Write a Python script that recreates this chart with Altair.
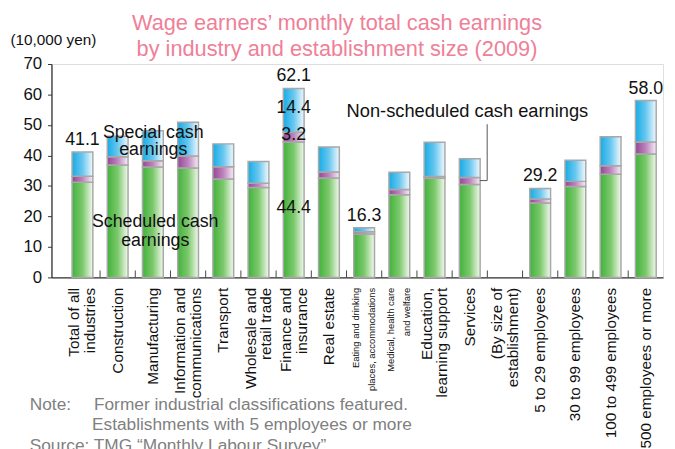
import altair as alt
import pandas as pd

# ---------------- data ----------------
categories = [
    "Total of all\nindustries", "Construction", "Manufacturing",
    "Information and\ncommunications", "Transport", "Wholesale and\nretail trade",
    "Finance and\ninsurance", "Real estate", "Eating and drinking\nplaces, accommodations",
    "Medical, health care\nand welfare", "Education,\nlearning support", "Services",
    "(By size of\nestablishment)", "5 to 29 employees", "30 to 99 employees",
    "100 to 499 employees", "500 employees or more",
]
scheduled = [31.2, 36.9, 36.2, 35.9, 32.3, 29.5, 44.4, 32.6, 14.2, 27.1, 32.5, 30.5,
             None, 24.4, 29.8, 33.8, 40.5]
non_scheduled = [2.0, 2.7, 2.1, 3.9, 4.0, 1.4, 3.2, 2.0, 0.8, 1.7, 0.6, 2.3,
                 None, 1.3, 1.7, 2.8, 3.9]
special = [7.9, 6.7, 9.8, 11.1, 7.5, 7.1, 14.4, 8.2, 1.3, 5.7, 11.2, 6.1,
           None, 3.5, 6.9, 9.5, 13.6]

total_label_cats = ["Total of all\nindustries", "Finance and\ninsurance",
                    "Eating and drinking\nplaces, accommodations",
                    "5 to 29 employees", "500 employees or more"]
total_label_vals = [41.1, 62.1, 16.3, 29.2, 58.0]
finance_cat = "Finance and\ninsurance"

title_lines = ["Wage earners\u2019 monthly total cash earnings",
               "by industry and establishment size (2009)"]
y_unit = "(10,000 yen)"
note_lines = ["Note:", "Former industrial classifications featured.",
              "Establishments with 5 employees or more",
              "Source: TMG \u201cMonthly Labour Survey\u201d"]

# ---------------- tables ----------------
rows = []
for c, s, n, p in zip(categories, scheduled, non_scheduled, special):
    if s is None:
        continue
    rows.append(dict(cat=c, s0=0.0, s1=s, n0=s, n1=s + n, p0=s + n, p1=s + n + p))
df = pd.DataFrame(rows)

lab_df = pd.DataFrame({"cat": total_label_cats, "v": total_label_vals,
                       "t": [f"{v:.1f}" for v in total_label_vals]})

fi = categories.index(finance_cat)
fs, fn, fp = scheduled[fi], non_scheduled[fi], special[fi]
fin_df = pd.DataFrame({"cat": [finance_cat] * 3,
                       "v": [fs / 2, fs + fn / 2, fs + fn + fp / 2],
                       "t": [f"{fs:.1f}", f"{fn:.1f}", f"{fp:.1f}"]})

tick_df = pd.DataFrame({"cat": categories[1:]})
one = pd.DataFrame({"a": [0]})

# ---------------- layout ----------------
W, H = 619, 216
P_IN, P_OUT, ALIGN = 0.41, 0.39, 0.75
STEP = W / (len(categories) - P_IN + 2 * P_OUT)
FONT = "Liberation Sans"
LINE_H = 16

xscale = alt.Scale(domain=categories, paddingInner=P_IN, paddingOuter=P_OUT, align=ALIGN)
xaxis = alt.Axis(
    title=None, ticks=False, tickSize=0, labelAngle=270, labelAlign="right",
    labelBaseline="middle", labelPadding=10, labelFont=FONT,
    labelFontSize={"condition": {"test": "indexof(datum.value, 'Eating') == 0 || indexof(datum.value, 'Medical') == 0",
                                 "value": 9.5}, "value": 15.5},
    labelOffset={"condition": {"test": "indexof(datum.value, '\\n') >= 0", "value": -LINE_H / 2},
                 "value": 0},
    labelLineHeight=LINE_H, labelColor="#111", labelLimit=0, labelOverlap=False,
    labelExpr="split(datum.label, '\\n')", domainColor="#333", domainWidth=1.3,
)
yscale = alt.Scale(domain=[0, 70], nice=False)
yaxis = alt.Axis(
    values=list(range(0, 71, 10)), grid=False, tickSize=4, tickColor="#333",
    labelOverlap=False, labelPadding=6, labelFontSize=17, labelFont=FONT, labelColor="#111",
    domainColor="#333", domainWidth=1.3,
    title=y_unit, titleAngle=0, titleAlign="left", titleBaseline="middle",
    titleX=-42, titleY=-25, titleFontSize=15.5, titleFont=FONT, titleFontWeight="normal",
    titleColor="#111",
)
x_enc = alt.X("cat:N", scale=xscale, axis=xaxis, sort=categories)


def y_enc(field):
    return alt.Y(field, scale=yscale, axis=yaxis)


def grad(c0, cm, c1):
    return alt.LinearGradient(
        gradient="linear", x1=0, x2=1, y1=0, y2=0,
        stops=[alt.GradientStop(color=c0, offset=0),
               alt.GradientStop(color=cm, offset=0.5),
               alt.GradientStop(color=c1, offset=1)],
    )


bar_kw = dict(stroke="#a8a8a8", strokeWidth=1.5)
green = alt.Chart(df).mark_bar(color=grad("#42b23c", "#7cc86c", "#f3f9ef"), **bar_kw).encode(
    x=x_enc, y=y_enc("s0:Q"), y2="s1:Q")
purple = alt.Chart(df).mark_bar(color=grad("#944794", "#bd84bd", "#f7eef7"), **bar_kw).encode(
    x=x_enc, y=y_enc("n0:Q"), y2="n1:Q")
blue = alt.Chart(df).mark_bar(color=grad("#16ace6", "#68c7ef", "#f2f9fe"), **bar_kw).encode(
    x=x_enc, y=y_enc("p0:Q"), y2="p1:Q")

ticks = alt.Chart(tick_df).mark_rule(color="#444", strokeWidth=1, xOffset=-STEP / 2).encode(
    x=x_enc, y=alt.value(H), y2=alt.value(H - 7))

txt = dict(font=FONT, fontSize=18, color="#111")
tot_labels = alt.Chart(lab_df).mark_text(baseline="bottom", dy=-3, **txt).encode(
    x=x_enc, y=y_enc("v:Q"), text="t:N")
fin_labels = alt.Chart(fin_df).mark_text(baseline="middle", dy=-2, **txt).encode(
    x=x_enc, y=y_enc("v:Q"), text="t:N")


def note(text, x, y, **kw):
    return alt.Chart(one).mark_text(**kw).encode(
        x=alt.value(x), y=alt.value(y), text=alt.value(text))


title = note(title_lines, 289, -41, font=FONT, fontSize=22, color="#ef8098",
             align="center", baseline="middle", lineHeight=26)
special_txt = note(["Special cash", "earnings"], 103, 70, align="center",
                   baseline="middle", lineHeight=17.5, **txt)
sched_txt = note(["Scheduled cash", "earnings"], 105, 160, align="center",
                 baseline="middle", lineHeight=19, **txt)
nonsched_txt = note("Non-scheduled cash earnings", 421, 48, align="center",
                    baseline="middle", font=FONT, fontSize=18.5, color="#111")

leader_v = alt.Chart(one).mark_rule(color="#555", strokeWidth=1).encode(
    x=alt.value(441), y=alt.value(61), y2=alt.value(118))
leader_h = alt.Chart(one).mark_rule(color="#555", strokeWidth=1).encode(
    x=alt.value(433.5), x2=alt.value(441), y=alt.value(118))

ntxt = dict(font=FONT, fontSize=17.5, color="#808080", align="left", baseline="middle")
n1 = note(note_lines[0], -22, 345, **ntxt)
n2 = note(note_lines[1], 43, 345, **ntxt)
n3 = note(note_lines[2], 41, 365, **ntxt)
n4 = note(note_lines[3], -22, 387, **ntxt)

chart = alt.layer(
    green, purple, blue, ticks, tot_labels, fin_labels,
    title, special_txt, sched_txt, nonsched_txt, leader_v, leader_h,
    n1, n2, n3, n4,
).properties(
    width=W, height=H, autosize="none",
    padding={"left": 44, "top": 54, "right": 4, "bottom": 171},
).configure_view(stroke=None).configure(font=FONT)

chart.save("out.html", embed_options={"renderer": "svg", "actions": False})
